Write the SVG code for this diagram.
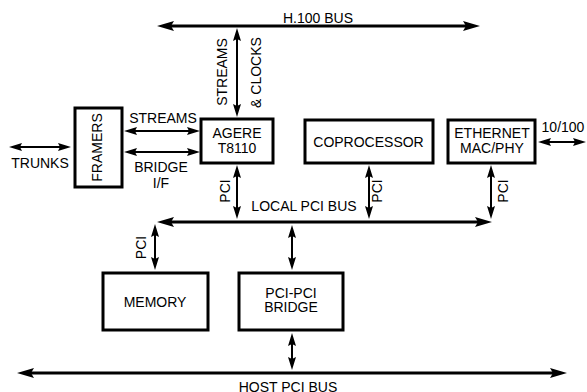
<svg xmlns="http://www.w3.org/2000/svg" width="587" height="392" viewBox="0 0 587 392">
<style>
text{font-family:"Liberation Sans",Arial,sans-serif;font-size:14px;fill:#000;text-anchor:middle}
.box{fill:#fff;stroke:#000;stroke-width:3}
.bus{stroke:#000;stroke-width:3;fill:none}
.lnk{stroke:#000;stroke-width:2;fill:none}
</style>
<defs>
<marker id="big" viewBox="0 0 17 10" refX="9" refY="5" markerWidth="17" markerHeight="10" markerUnits="userSpaceOnUse" orient="auto-start-reverse"><path d="M0,0 L17,5 L0,10 L3,5 Z" fill="#000"/></marker>
<marker id="sm" viewBox="0 0 13 8" refX="6" refY="4" markerWidth="13" markerHeight="8" markerUnits="userSpaceOnUse" orient="auto-start-reverse"><path d="M0,0 L13,4 L0,8 L2,4 Z" fill="#000"/></marker>
</defs>
<g id="connectors">
<line class="bus" x1="165" y1="26" x2="472" y2="26" marker-start="url(#big)" marker-end="url(#big)"/>
<line class="bus" x1="165" y1="222" x2="484" y2="222" marker-start="url(#big)" marker-end="url(#big)"/>
<line class="bus" x1="25" y1="373" x2="559" y2="373" marker-start="url(#big)" marker-end="url(#big)"/>
<line class="lnk" x1="237" y1="35" x2="237" y2="110" marker-start="url(#sm)" marker-end="url(#sm)"/>
<line class="lnk" x1="16" y1="147" x2="64" y2="147" marker-start="url(#sm)" marker-end="url(#sm)"/>
<line class="lnk" x1="131" y1="131" x2="193" y2="131" marker-start="url(#sm)" marker-end="url(#sm)"/>
<line class="lnk" x1="131" y1="152" x2="193" y2="152" marker-start="url(#sm)" marker-end="url(#sm)"/>
<line class="lnk" x1="545" y1="142" x2="579" y2="142" marker-start="url(#sm)" marker-end="url(#sm)"/>
<line class="lnk" x1="237" y1="172" x2="237" y2="212" marker-start="url(#sm)" marker-end="url(#sm)"/>
<line class="lnk" x1="369" y1="172" x2="369" y2="212" marker-start="url(#sm)" marker-end="url(#sm)"/>
<line class="lnk" x1="491" y1="172" x2="491" y2="212" marker-start="url(#sm)" marker-end="url(#sm)"/>
<line class="lnk" x1="155" y1="231" x2="155" y2="263" marker-start="url(#sm)" marker-end="url(#sm)"/>
<line class="lnk" x1="292" y1="232" x2="292" y2="263" marker-start="url(#sm)" marker-end="url(#sm)"/>
<line class="lnk" x1="292" y1="340" x2="292" y2="363" marker-start="url(#sm)" marker-end="url(#sm)"/>
</g>
<g id="labels">
<text x="318" y="23">H.100 BUS</text>
<text transform="translate(227,72) rotate(-90)">STREAMS</text>
<text transform="translate(261,72.5) rotate(-90)">&amp; CLOCKS</text>
<text x="163" y="123">STREAMS</text>
<text x="161" y="172">BRIDGE</text>
<text x="161" y="188">I/F</text>
<text x="40" y="168">TRUNKS</text>
<text x="563" y="132">10/100</text>
<text transform="translate(230,191) rotate(-90)">PCI</text>
<text transform="translate(382,191) rotate(-90)">PCI</text>
<text transform="translate(508,191) rotate(-90)">PCI</text>
<text transform="translate(146,247.5) rotate(-90)">PCI</text>
<text x="304" y="211">LOCAL PCI BUS</text>
<text x="288" y="392">HOST PCI BUS</text>
</g>
<g id="framers"><rect class="box" x="75" y="108" width="47" height="79"/><text transform="translate(102,147.5) rotate(-90)">FRAMERS</text></g>
<g id="agere"><rect class="box" x="201" y="119" width="72" height="44"/><text x="237" y="138">AGERE</text><text x="237" y="153">T8110</text></g>
<g id="coprocessor"><rect class="box" x="305" y="120" width="128" height="43"/><text x="368.5" y="147">COPROCESSOR</text></g>
<g id="ethernet"><rect class="box" x="448" y="120" width="87" height="43"/><text x="492" y="138">ETHERNET</text><text x="492" y="153">MAC/PHY</text></g>
<g id="memory"><rect class="box" x="103" y="273" width="105" height="57"/><text x="155" y="307">MEMORY</text></g>
<g id="bridge"><rect class="box" x="239" y="273" width="104" height="57"/><text x="291" y="298">PCI-PCI</text><text x="291" y="312">BRIDGE</text></g>
</svg>
